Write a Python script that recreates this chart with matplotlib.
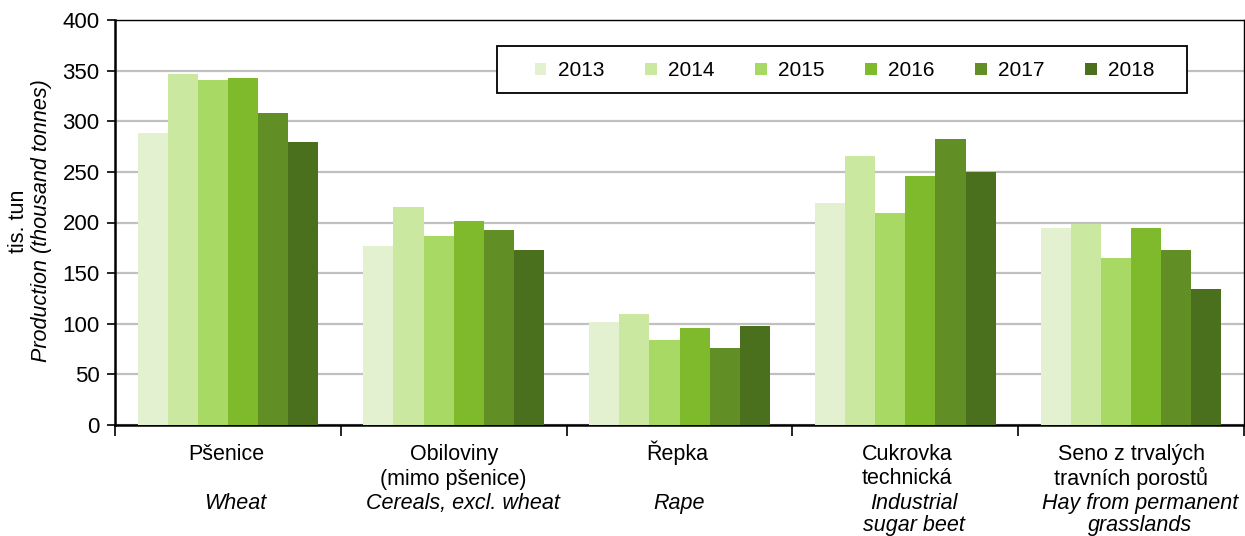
import matplotlib
matplotlib.use("Agg")
import matplotlib.pyplot as plt
import matplotlib.transforms as mtransforms
from matplotlib.patches import Rectangle
import numpy as np

plt.rcParams['font.family'] = ['Liberation Sans', 'DejaVu Sans']

years = ['2013', '2014', '2015', '2016', '2017', '2018']
categories_cz = ['Pšenice', 'Obiloviny\n(mimo pšenice)', 'Řepka',
                 'Cukrovka\ntechnická', 'Seno z trvalých\ntravních porostů']
categories_en = ['Wheat', 'Cereals, excl. wheat', 'Rape',
                 'Industrial\nsugar beet', 'Hay from permanent\ngrasslands']

wheat = [288, 347, 341, 343, 308, 280]
cereals = [177, 215, 187, 201, 193, 173]
rape = [102, 110, 84, 96, 76, 98]
sugar_beet = [219, 266, 209, 246, 282, 250]
hay = [195, 199, 165, 195, 173, 134]

values = np.array([wheat, cereals, rape, sugar_beet, hay])
colors = ['#E3F1D1', '#CAE8A0', '#A7D964', '#7FBA2D', '#618F25', '#4A6F1D']

W, H = 1245, 536
fig = plt.figure(figsize=(W/100, H/100), dpi=100)
ax = fig.add_axes([115/W, 1 - 425/H, (1244 - 115)/W, (425 - 20)/H])

n_cat = len(categories_cz)
n_ser = len(years)
bw = 0.8 / n_ser
x = np.arange(n_cat)
for i, (yr, col) in enumerate(zip(years, colors)):
    ax.bar(x - 0.4 + bw * (i + 0.5), values[:, i], width=bw, color=col,
           label=yr, zorder=3, edgecolor='none')

ax.set_xlim(-0.5, n_cat - 0.5)
ax.set_ylim(0, 400)
ax.set_yticks(np.arange(0, 401, 50))
ax.yaxis.grid(True, color='#C0C0C0', linewidth=1.6, zorder=0)
ax.set_axisbelow(True)

ax.set_xticks(np.arange(-0.5, n_cat, 1.0))
ax.set_xticklabels([])
ax.tick_params(axis='x', direction='out', length=8, width=1.2, color='black')
ax.tick_params(axis='y', direction='out', length=6, width=1.2, color='black',
               labelsize=16, pad=5)
for s in ax.spines.values():
    s.set_color('black')
    s.set_linewidth(1.0)
ax.spines['left'].set_linewidth(1.8)
ax.spines['bottom'].set_linewidth(1.8)

# y label (two lines)
fig.text(19/W, 1 - 221/H, 'tis. tun', rotation=90, ha='center', va='center', fontsize=15.5)
fig.text(42/W, 1 - 221/H, 'Production (thousand tonnes)', rotation=90,
         ha='center', va='center', fontsize=15.5, style='italic')

trans = mtransforms.blended_transform_factory(ax.transData, fig.transFigure)
cz_gap = 24.5
en_gap = 22
cz_shift = [-2, 0, -2, 2, 0]
en_shift = [7, 9, 0, 9, 9]
for i in range(n_cat):
    tcz = trans + mtransforms.ScaledTranslation(cz_shift[i]/100, 0, fig.dpi_scale_trans)
    ten = trans + mtransforms.ScaledTranslation(en_shift[i]/100, 0, fig.dpi_scale_trans)
    for j, line in enumerate(categories_cz[i].split('\n')):
        ax.text(x[i], 1 - (460 + j * cz_gap)/H, line, transform=tcz,
                ha='center', va='baseline', fontsize=15.5)
    for j, line in enumerate(categories_en[i].split('\n')):
        ax.text(x[i], 1 - (509 + j * en_gap)/H, line, transform=ten,
                ha='center', va='baseline', fontsize=15.5, style='italic')

# legend frame drawn separately
frame = Rectangle((497/W, 1 - 93/H), (1187 - 497)/W, (93 - 46)/H,
                  transform=fig.transFigure, facecolor='white', edgecolor='black',
                  linewidth=1.3, zorder=4)
fig.patches.append(frame)

leg = fig.legend(*ax.get_legend_handles_labels(), loc='center left',
                 bbox_to_anchor=(535/W, 1 - 71/H),
                 ncol=6, frameon=False, fontsize=15,
                 handlelength=0.55, handleheight=0.55, handletextpad=0.55,
                 columnspacing=1.95, borderpad=0, borderaxespad=0)
leg.set_zorder(6)

fig.savefig('out.png', dpi=100)
